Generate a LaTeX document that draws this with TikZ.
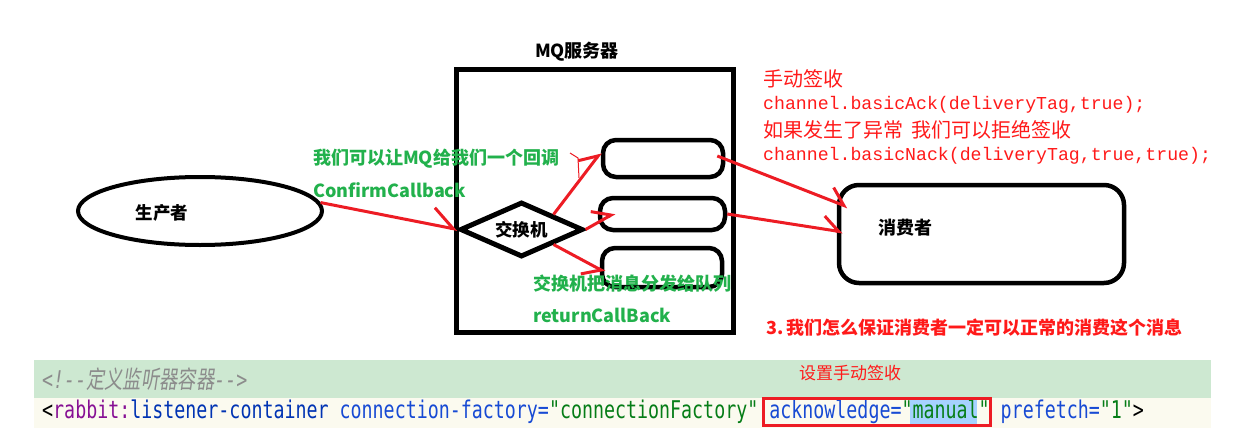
\documentclass[tikz,border=0pt]{standalone}
\usepackage{fontspec}
\setmainfont{Noto Sans CJK SC}
\newfontfamily\cjkslant[FakeSlant=0.2]{Noto Sans CJK SC}
\newfontfamily\redmono[Ligatures=TeXOff]{Liberation Mono}
\newfontfamily\codemono[Ligatures=TeXOff]{DejaVu Sans Mono}
\usetikzlibrary{shapes.geometric,arrows.meta}
\definecolor{pred}{HTML}{ED1C24}
\definecolor{tred}{HTML}{FF1A1A}
\definecolor{pgreen}{HTML}{22B14C}
\definecolor{bandgreen}{HTML}{CDE8D1}
\definecolor{bandcream}{HTML}{FBFAEF}
\definecolor{cgray}{HTML}{8C8C8C}
\definecolor{cpurple}{HTML}{871094}
\definecolor{cblue}{HTML}{174AD4}
\definecolor{cdblue}{HTML}{0033B3}
\definecolor{cgreen}{HTML}{067D17}
\definecolor{hlblue}{HTML}{A6D2FF}
\tikzset{
  blk/.style={draw=black, line width=4.5pt, inner sep=0pt},
  qbox/.style={blk, rounded corners=13pt},
  gtxt/.style={text=pgreen, font=\bfseries\fontsize{18}{22}\selectfont, anchor=base west, inner sep=0pt},
  rtxt/.style={text=tred, font=\fontsize{20}{24}\selectfont, anchor=base west, inner sep=0pt},
  rmono/.style={text=tred, font=\redmono\fontsize{18.2}{22}\selectfont, anchor=base west, inner sep=0pt},
  btxt/.style={text=black, font=\bfseries\fontsize{18}{22}\selectfont, inner sep=0pt},
  arr/.style={draw=pred, line width=3pt, -{Straight Barb[harpoon, length=16pt, width=26pt]}},
  arrR/.style={draw=pred, line width=3pt, -{Straight Barb[harpoon, swap, length=16pt, width=26pt]}},
  arrL/.style={draw=pred, line width=3pt, -{Straight Barb[harpoon, length=22pt, width=34pt]}},
}
\begin{document}
\begin{tikzpicture}[x=1pt,y=-1pt]
\useasboundingbox (0,0) rectangle (1246,441);
\fill[white] (0,0) rectangle (1246,441);

% code band
\fill[bandgreen] (34,360) rectangle (1211,398);
\fill[bandcream] (34,398) rectangle (1211,428);
\fill[hlblue] (910,399) rectangle (977,424);
\node[anchor=base west, inner sep=0pt] (cmt) at (42,388)
  {\scalebox{0.75}[1]{\fontsize{24.4}{28}\selectfont\color{cgray}{\codemono\itshape <!--}{\cjkslant 定义监听器容器}{\codemono\itshape -->}}};
\node[anchor=base west, inner sep=0pt] (code) at (42,418)
  {\scalebox{0.75}[1]{\codemono\fontsize{24.4}{28}\selectfont <\textcolor{cpurple}{rabbit:}\textcolor{cdblue}{listener-container} \textcolor{cblue}{connection-factory=}\textcolor{cgreen}{"connectionFactory"} \textcolor{cblue}{acknowledge=}\textcolor{cgreen}{"manual"} \textcolor{cblue}{prefetch=}\textcolor{cgreen}{"1"}>}};
\draw[pred, line width=3pt] (763,398) rectangle (990,425);
\node[text=tred, font=\fontsize{17}{20}\selectfont, inner sep=0pt] (setack) at (850,373) {设置手动签收};

% shapes
\node[ellipse, blk, line width=4pt, minimum width=244pt, minimum height=68pt] (prod) at (200,211) {};
\node[btxt, font=\bfseries\fontsize{17.5}{20}\selectfont] (prodt) at (162,213) {生产者};
\node[blk, line width=5pt, minimum width=277pt, minimum height=262pt] (mq) at (594.5,201) {};
\node[btxt, anchor=base] (mqt) at (577,58) {MQ服务器};
\node[diamond, blk, line width=5pt, minimum width=123pt, minimum height=55pt, shape aspect=2.2, font=\bfseries\fontsize{17.5}{20}\selectfont] (ex) at (521.5,229.5) {交换机};
\node[qbox, minimum width=120pt, minimum height=37pt] (q1) at (663,158.5) {};
\node[qbox, minimum width=125pt, minimum height=32pt] (q2) at (662.5,214) {};
\node[qbox, minimum width=120pt, minimum height=39pt] (q3) at (662,267.5) {};
\node[blk, rounded corners=20pt, minimum width=285pt, minimum height=98pt] (cons) at (981.5,234) {};
\node[btxt] (const) at (905,228) {消费者};

% arrows
\draw[arrL] (prod.4) -- (ex.west);
\draw[arr] (ex.north east) -- ([yshift=6pt]q1.west);
\draw[pred, line width=1pt] (570,153) -- (578,158) -- (579,178);
\draw[arr] (ex.east) -- ([xshift=17pt,yshift=1pt]q2.west);
\draw[arrR] (ex.south east) -- ([xshift=5pt,yshift=-4.5pt]q3.west);
\draw[arr] ([xshift=-8pt,yshift=2.5pt]q1.east) -- ([xshift=11pt,yshift=27pt]cons.west);
\draw[arr] (q2.east) -- ([xshift=6pt,yshift=2pt]cons.west);

% green labels
\node[gtxt] (g1) at (313,164) {我们可以让MQ给我们一个回调};
\node[gtxt] (g2) at (313,197) {ConfirmCallback};
\node[gtxt] (g3) at (533,290) {交换机把消息分发给队列};
\node[gtxt] (g4) at (533,322) {returnCallBack};

% red notes
\node[rtxt] (r1) at (763,87) {手动签收};
\node[rmono] (r2) at (763,110) {channel.basicAck(deliveryTag,true);};
\node[rtxt] (r3) at (763,137) {如果发生了异常\hspace{8pt}我们可以拒绝签收};
\node[rmono] (r4) at (763,160) {channel.basicNack(deliveryTag,true,true);};
\node[text=tred, font=\bfseries\fontsize{18}{21}\selectfont, anchor=base west, inner sep=0pt] (r5) at (766,334) {3.\,我们怎么保证消费者一定可以正常的消费这个消息};
\end{tikzpicture}
\end{document}
